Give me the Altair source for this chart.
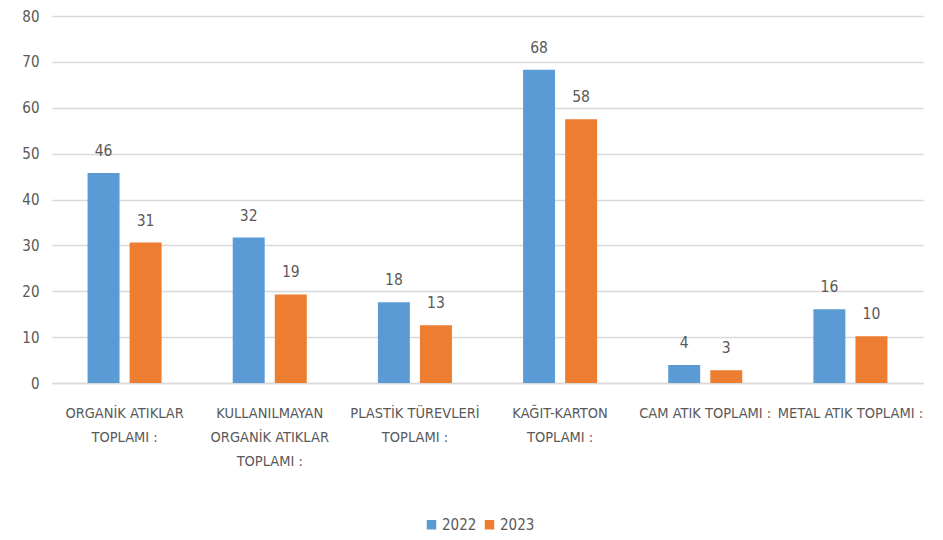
import altair as alt
import pandas as pd

categories = [
    "ORGANİK ATIKLAR|TOPLAMI :",
    "KULLANILMAYAN|ORGANİK ATIKLAR|TOPLAMI :",
    "PLASTİK TÜREVLERİ|TOPLAMI :",
    "KAĞIT-KARTON|TOPLAMI  :",
    "CAM ATIK TOPLAMI :",
    "METAL ATIK TOPLAMI :",
]
years = ["2022", "2023"]
values_2022 = [45.8, 31.7, 17.6, 68.3, 3.9, 16.1]
values_2023 = [30.6, 19.3, 12.6, 57.5, 2.8, 10.2]

rows = []
for c, a, b in zip(categories, values_2022, values_2023):
    rows.append({"cat": c, "year": "2022", "value": a})
    rows.append({"cat": c, "year": "2023", "value": b})
df = pd.DataFrame(rows)

FONT = "DejaVu Sans Condensed"
GRAY = "#595959"

x = alt.X("cat:N", sort=categories, title=None,
          scale=alt.Scale(paddingInner=0.49, paddingOuter=0.245),
          axis=alt.Axis(labelAngle=0, labelExpr="split(datum.value, '|')",
                        labelFont=FONT, labelFontSize=14.5, labelColor=GRAY,
                        labelLineHeight=24, labelPadding=23, ticks=False,
                        domainColor="#d9d9d9", domainWidth=1.5, labelLimit=200,
                        labelBaseline="top", labelOverlap=False))
xo = alt.XOffset("year:N", scale=alt.Scale(paddingInner=0.24))
y = alt.Y("value:Q", title=None,
          scale=alt.Scale(domain=[0, 80]),
          axis=alt.Axis(values=list(range(0, 81, 10)), labelFont=FONT, labelFontSize=15,
                        labelColor=GRAY, labelPadding=13, ticks=False, domain=False,
                        gridColor="#d9d9d9", gridWidth=1.5))
color = alt.Color("year:N", title=None,
                  scale=alt.Scale(domain=years, range=["#5B9BD5", "#ED7D31"]),
                  legend=alt.Legend(orient="none", direction="horizontal",
                                    legendX=372, legendY=501,
                                    symbolType="square", symbolSize=90,
                                    labelFont=FONT, labelFontSize=15, labelColor=GRAY,
                                    columnPadding=5, labelOffset=3, symbolStrokeWidth=0))

bars = alt.Chart(df).mark_bar().encode(x=x, xOffset=xo, y=y, color=color)
labels = alt.Chart(df).mark_text(baseline="bottom", dy=-14, font=FONT, fontSize=15.5,
                                 color=GRAY).encode(
    x=x, xOffset=xo, y=y, text=alt.Text("value:Q", format=".0f"))

chart = (bars + labels).properties(
    width=871, height=367,
    autosize=alt.AutoSizeParams(type="none"),
    padding={"left": 44, "top": 8, "right": 12, "bottom": 150},
).configure_view(stroke=None)

chart.save("out.html", embed_options={"renderer": "svg", "actions": False})
